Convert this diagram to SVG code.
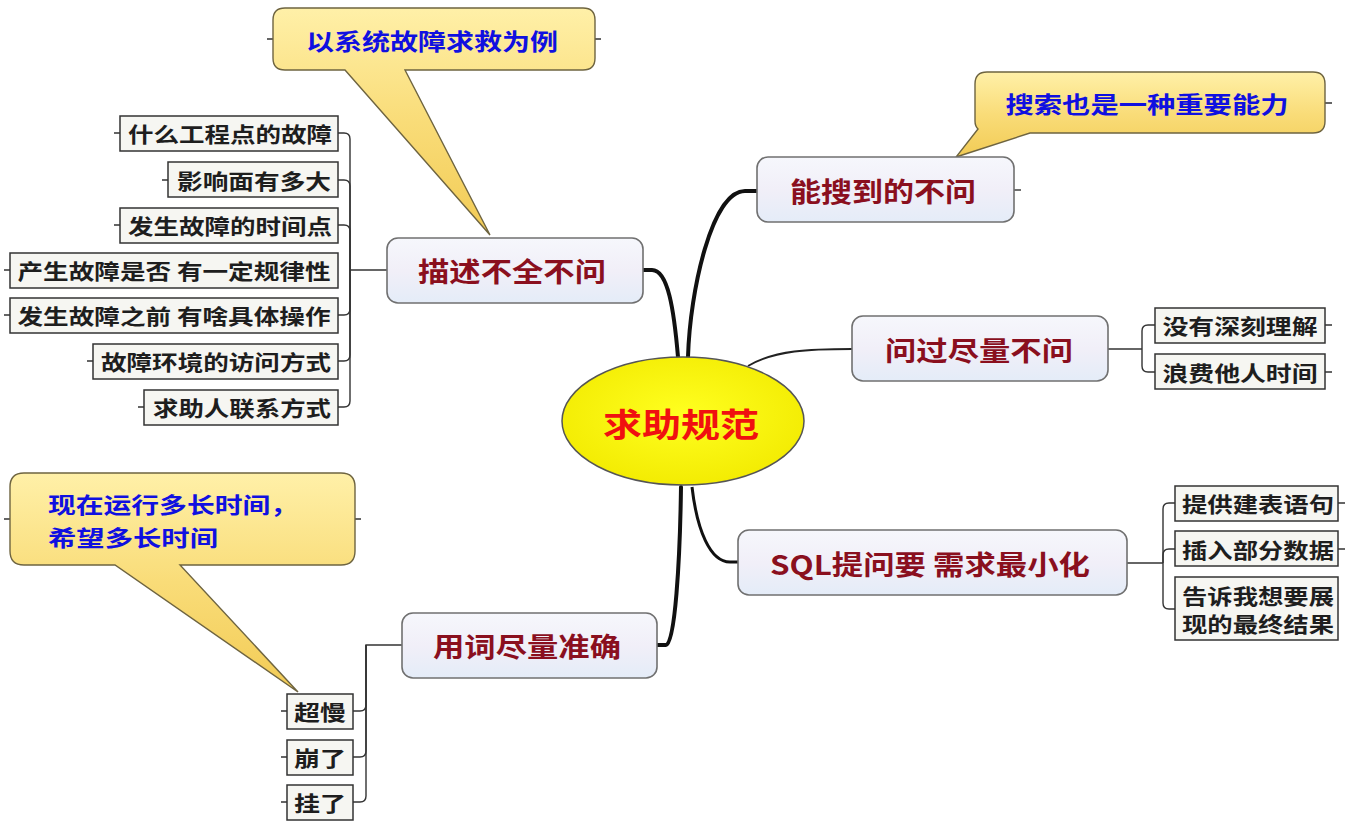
<svg xmlns="http://www.w3.org/2000/svg" width="1346" height="821" viewBox="0 0 1346 821">
<defs>
<linearGradient id="gCall" x1="0" y1="0" x2="0" y2="1">
<stop offset="0" stop-color="#FFF0A8"/><stop offset="0.5" stop-color="#F9DC78"/><stop offset="1" stop-color="#F2CB55"/>
</linearGradient>
<linearGradient id="gMain" x1="0" y1="0" x2="0" y2="1">
<stop offset="0" stop-color="#F6F7FC"/><stop offset="0.5" stop-color="#F1EFF8"/><stop offset="1" stop-color="#E4ECF8"/>
</linearGradient>
<radialGradient id="gCenter" cx="0.5" cy="0.45" r="0.6">
<stop offset="0" stop-color="#FFFF20"/><stop offset="1" stop-color="#F2EA00"/>
</radialGradient>
</defs>
<style>
.txt{font-family:"Noto Sans CJK SC","Noto Sans",sans-serif;font-weight:bold;dominant-baseline:central}
.main rect{fill:url(#gMain);stroke:#707070;stroke-width:1.6}
.main text{fill:#8A0F1E;font-size:27px;text-anchor:middle}
.leaf rect{fill:#F6F6F2;stroke:#333;stroke-width:1.5}
.leaf text{fill:#1E1E1E;font-size:21px;text-anchor:middle}
.call path{fill:url(#gCall);stroke:#6E6440;stroke-width:1.4}
.call text{fill:#1010E0;font-size:23px}
.conn path{fill:none;stroke:#333;stroke-width:1.4}
.conn path.thick{stroke:#111;stroke-width:4;stroke-linecap:round}
.conn path.med{stroke:#111;stroke-width:3}
.conn path.thin{stroke:#222;stroke-width:2}
</style>
<rect width="1346" height="821" fill="#FFFFFF"/>

<g id="connectors" class="conn">
<path class="thick" d="M643,270 H652 C668,270 674,310 678,357"/>
<path class="thick" d="M688,357 C690,290 712,191 745,191 H757"/>
<path class="thin" d="M748,366 C775,350 810,349 852,349"/>
<path class="med" d="M692,487 C697,530 710,562 730,562 H738"/>
<path class="thick" d="M681,487 C680,560 675,645 666,645 H657"/>
<!-- left leaves of 描述不全不问 -->
<path d="M387,270 H350"/>
<path d="M350,270 V139 Q350,133 344,133 H338"/>
<path d="M350,270 V186 Q350,180 344,180 H338"/>
<path d="M350,270 V231 Q350,225 344,225 H338"/>
<path d="M350,270 V309 Q350,315 344,315 H338"/>
<path d="M350,270 V355 Q350,361 344,361 H338"/>
<path d="M350,270 V401 Q350,407 344,407 H338"/>
<!-- 问过尽量不问 -->
<path d="M1108,349 H1142"/>
<path d="M1142,349 V331 Q1142,325 1148,325 H1155"/>
<path d="M1142,349 V366 Q1142,372 1148,372 H1155"/>
<!-- SQL -->
<path d="M1127,563 H1163"/>
<path d="M1163,563 V509 Q1163,503 1169,503 H1175"/>
<path d="M1163,563 V555 Q1163,549 1169,549 H1175"/>
<path d="M1163,563 V603 Q1163,609 1169,609 H1175"/>
<!-- 用词尽量准确 -->
<path d="M402,645 H366 V705 Q366,711 360,711 H353"/>
<path d="M366,645 V751 Q366,757 360,757 H353"/>
<path d="M366,645 V796 Q366,802 360,802 H353"/>
<!-- stubs -->
<path d="M114,133 H120 M162,180 H168 M114,225 H120 M4,270 H10 M4,315 H10 M87,361 H93 M138,407 H144"/>
<path d="M1325,325 H1332 M1325,372 H1332 M1338,503 H1345 M1338,549 H1345"/>
<path d="M281,711 H287 M281,757 H287 M281,802 H287"/>
<path d="M1014,190 H1021"/>
<path d="M267,39 H273 M595,39 H601 M1325,103 H1332 M4,519 H10 M355,519 H361"/>
</g>

<g id="callout-example" class="call">
<path d="M285,8 H583 Q595,8 595,20 V58 Q595,70 583,70 H405 L490,235 L345,70 H285 Q273,70 273,58 V20 Q273,8 285,8 Z"/>
<text class="txt" x="432" y="40" text-anchor="middle" textLength="252" lengthAdjust="spacingAndGlyphs">以系统故障求救为例</text>
</g>
<g id="callout-search" class="call">
<path d="M987,72 H1313 Q1325,72 1325,84 V121 Q1325,133 1313,133 H1030 L956,157 L978,129 Q975,126 975,121 V84 Q975,72 987,72 Z"/>
<text class="txt" x="1147" y="103" text-anchor="middle" textLength="283" lengthAdjust="spacingAndGlyphs">搜索也是一种重要能力</text>
</g>
<g id="callout-time" class="call">
<path d="M24,473 H341 Q355,473 355,487 V551 Q355,565 341,565 H180 L298,692 L115,565 H24 Q10,565 10,551 V487 Q10,473 24,473 Z"/>
<text class="txt" x="48" y="503" font-size="22" style="font-size:22px" textLength="250" lengthAdjust="spacingAndGlyphs">现在运行多长时间，</text>
<text class="txt" x="48" y="536" font-size="22" style="font-size:22px" textLength="170" lengthAdjust="spacingAndGlyphs">希望多长时间</text>
</g>

<g id="center">
<ellipse cx="683" cy="421" rx="121" ry="64" fill="url(#gCenter)" stroke="#555" stroke-width="1.5"/>
<text class="txt" x="681" y="423" text-anchor="middle" font-size="33" fill="#F01010" textLength="156" lengthAdjust="spacingAndGlyphs">求助规范</text>
</g>

<g id="node-describe" class="main">
<rect x="387" y="238" width="256" height="65" rx="11"/>
<text class="txt" x="512" y="270" textLength="188" lengthAdjust="spacingAndGlyphs">描述不全不问</text>
</g>
<g id="node-search" class="main">
<rect x="757" y="157" width="257" height="65" rx="11"/>
<text class="txt" x="883" y="190" textLength="186" lengthAdjust="spacingAndGlyphs">能搜到的不问</text>
</g>
<g id="node-asked" class="main">
<rect x="852" y="316" width="256" height="65" rx="11"/>
<text class="txt" x="979" y="349" textLength="188" lengthAdjust="spacingAndGlyphs">问过尽量不问</text>
</g>
<g id="node-sql" class="main">
<rect x="738" y="530" width="389" height="65" rx="11"/>
<text class="txt" x="930" y="563" textLength="320" lengthAdjust="spacingAndGlyphs">SQL提问要 需求最小化</text>
</g>
<g id="node-words" class="main">
<rect x="402" y="613" width="255" height="65" rx="11"/>
<text class="txt" x="527" y="645" textLength="188" lengthAdjust="spacingAndGlyphs">用词尽量准确</text>
</g>

<g id="leaf-1" class="leaf"><rect x="120" y="116" width="218" height="35"/><text class="txt" x="230" y="133" textLength="204" lengthAdjust="spacingAndGlyphs">什么工程点的故障</text></g>
<g id="leaf-2" class="leaf"><rect x="168" y="162" width="170" height="35"/><text class="txt" x="254" y="180" textLength="154" lengthAdjust="spacingAndGlyphs">影响面有多大</text></g>
<g id="leaf-3" class="leaf"><rect x="120" y="208" width="218" height="35"/><text class="txt" x="230" y="225" textLength="204" lengthAdjust="spacingAndGlyphs">发生故障的时间点</text></g>
<g id="leaf-4" class="leaf"><rect x="10" y="253" width="328" height="35"/><text class="txt" x="174" y="270" textLength="313" lengthAdjust="spacingAndGlyphs">产生故障是否 有一定规律性</text></g>
<g id="leaf-5" class="leaf"><rect x="10" y="298" width="328" height="35"/><text class="txt" x="174" y="315" textLength="313" lengthAdjust="spacingAndGlyphs">发生故障之前 有啥具体操作</text></g>
<g id="leaf-6" class="leaf"><rect x="93" y="344" width="245" height="35"/><text class="txt" x="216" y="361" textLength="230" lengthAdjust="spacingAndGlyphs">故障环境的访问方式</text></g>
<g id="leaf-7" class="leaf"><rect x="144" y="390" width="194" height="35"/><text class="txt" x="242" y="407" textLength="178" lengthAdjust="spacingAndGlyphs">求助人联系方式</text></g>

<g id="leaf-8" class="leaf"><rect x="1155" y="308" width="170" height="35"/><text class="txt" x="1240" y="325" textLength="155" lengthAdjust="spacingAndGlyphs">没有深刻理解</text></g>
<g id="leaf-9" class="leaf"><rect x="1155" y="354" width="170" height="35"/><text class="txt" x="1240" y="372" textLength="155" lengthAdjust="spacingAndGlyphs">浪费他人时间</text></g>

<g id="leaf-10" class="leaf"><rect x="1175" y="486" width="163" height="35"/><text class="txt" x="1258" y="503" textLength="152" lengthAdjust="spacingAndGlyphs">提供建表语句</text></g>
<g id="leaf-11" class="leaf"><rect x="1175" y="531" width="163" height="35"/><text class="txt" x="1258" y="549" textLength="152" lengthAdjust="spacingAndGlyphs">插入部分数据</text></g>
<g id="leaf-12" class="leaf"><rect x="1175" y="577" width="163" height="63"/><text class="txt" x="1258" y="595" textLength="152" lengthAdjust="spacingAndGlyphs">告诉我想要展</text><text class="txt" x="1258" y="623" textLength="152" lengthAdjust="spacingAndGlyphs">现的最终结果</text></g>

<g id="leaf-13" class="leaf"><rect x="287" y="694" width="66" height="35"/><text class="txt" x="320" y="711" textLength="52" lengthAdjust="spacingAndGlyphs">超慢</text></g>
<g id="leaf-14" class="leaf"><rect x="287" y="740" width="66" height="35"/><text class="txt" x="320" y="757" textLength="52" lengthAdjust="spacingAndGlyphs">崩了</text></g>
<g id="leaf-15" class="leaf"><rect x="287" y="785" width="66" height="35"/><text class="txt" x="320" y="802" textLength="52" lengthAdjust="spacingAndGlyphs">挂了</text></g>
</svg>
